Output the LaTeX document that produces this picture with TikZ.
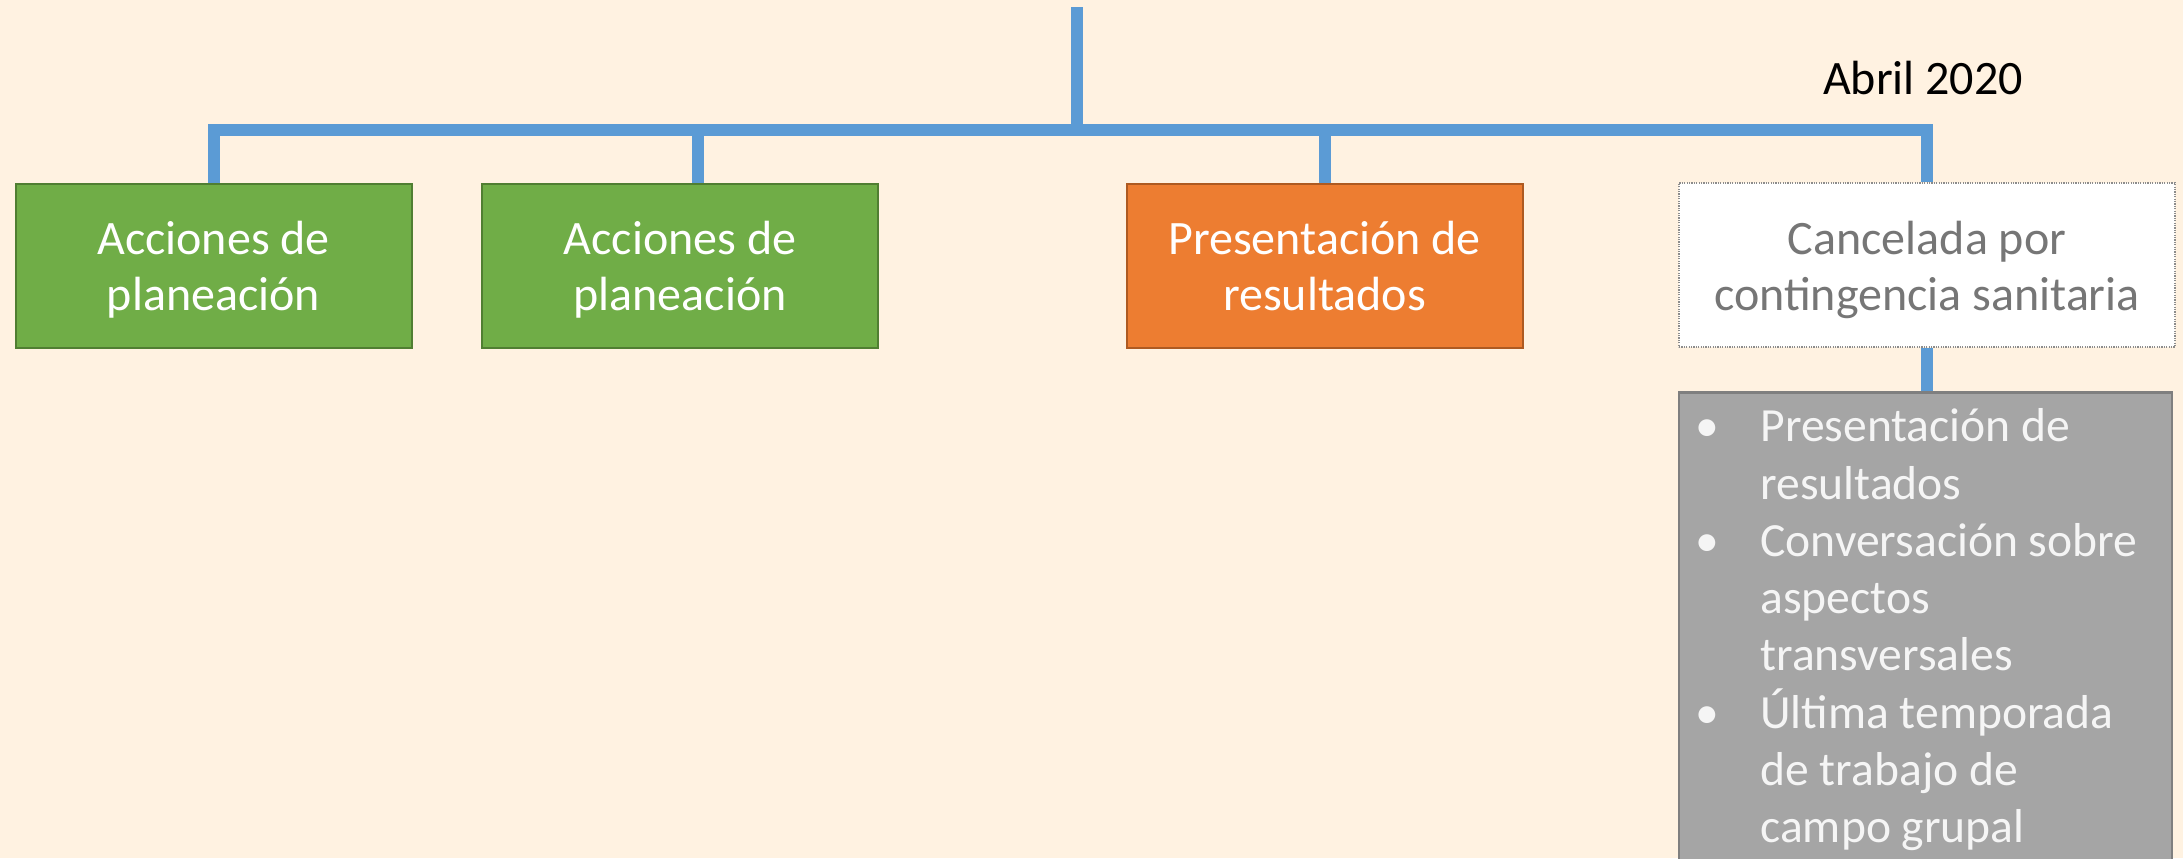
\documentclass[tikz,border=0pt]{standalone}
\usepackage{fontspec}
\setmainfont{Carlito}
\newcommand\strA{\rule{0pt}{22pt}}
\newcommand\strB{\rule[-5pt]{0pt}{5pt}}
\definecolor{bgc}{HTML}{FFF2E1}
\definecolor{lineblue}{HTML}{5B9BD5}
\definecolor{boxgreen}{HTML}{70AD47}
\definecolor{greenedge}{HTML}{507E32}
\definecolor{boxorange}{HTML}{ED7D31}
\definecolor{orangeedge}{HTML}{AE5A21}
\definecolor{boxgray}{HTML}{A5A5A5}
\definecolor{grayedge}{HTML}{7F7F7F}
\definecolor{dimtext}{HTML}{767676}
\definecolor{dotedge}{HTML}{8C8C8C}
\definecolor{listtext}{HTML}{F5F5F5}
\tikzset{
  conn/.style={draw=lineblue, line width=6pt},
  stagebox/.style={rectangle, inner sep=0pt, minimum width=198pt, minimum height=82pt, align=center, font=\fontsize{24}{28}\selectfont, text=white, line width=1pt},
  greenbox/.style={stagebox, fill=boxgreen, draw=greenedge},
  orangebox/.style={stagebox, fill=boxorange, draw=orangeedge},
  cancelbox/.style={stagebox, fill=white, draw=dotedge, line width=0.6pt, dash pattern=on 0.6pt off 0.6pt, text=dimtext, minimum width=248pt},
  listbox/.style={rectangle, inner sep=0pt, fill=boxgray, draw=grayedge, line width=1.25pt, minimum width=246.5pt, minimum height=260pt, anchor=north},
  listline/.style={anchor=base west, inner sep=0pt, text=listtext, font=\fontsize{23.8}{28}\selectfont},
  listbullet/.style={anchor=base, inner sep=0pt, text=listtext, font=\fontsize{23.8}{28}\selectfont},
  datelabel/.style={anchor=base, inner sep=0pt, text=black, font=\fontsize{24}{28}\selectfont},
}
\begin{document}
\begin{tikzpicture}[x=0.5pt,y=-0.5pt]
\clip (0,0) rectangle (2183,858);
\fill[bgc] (0,0) rectangle (2183,858);
% boxes
\node[greenbox] (g1) at (213.5,265.5) {\strA Acciones de\\\strB planeación};
\node[greenbox] (g2) at (680,265.5) {\strA Acciones de\\\strB planeación};
\node[orangebox] (o1) at (1324.5,265.5) {\strA Presentación de\\\strB resultados};
\node[cancelbox] (w1) at (1927,265) {\strA Cancelada por\\\strB contingencia sanitaria};
\node[listbox] (gb) at (1925.5,391) {};
\node[datelabel] (date) at (1923,94) {Abril 2020};
% connectors
\coordinate (top) at (1077,7);
\coordinate (hub) at (1077,129.5);
\coordinate (d2) at (697.5,183);
\draw[conn] (top) -- (hub);
\draw[conn] (hub) -| (g1.north);
\draw[conn] (hub) -| (d2);
\draw[conn] (hub) -| (o1.north);
\draw[conn] (hub) -| (w1.north);
\draw[conn] (w1.south) -- (w1.south |- gb.north);
% list
\foreach \t [count=\i, evaluate=\i as \yy using 441.7+(\i-1)*57.3] in {Presentación de, resultados, Conversación sobre, aspectos, transversales, Última temporada, de trabajo de, campo grupal}{
  \node[listline] (l\i) at (1760,\yy) {\t};
}
\node[listbullet] (b1) at (1707,441.7) {•};
\node[listbullet] (b2) at (1707,556.3) {•};
\node[listbullet] (b3) at (1707,728.2) {•};
\end{tikzpicture}
\end{document}
